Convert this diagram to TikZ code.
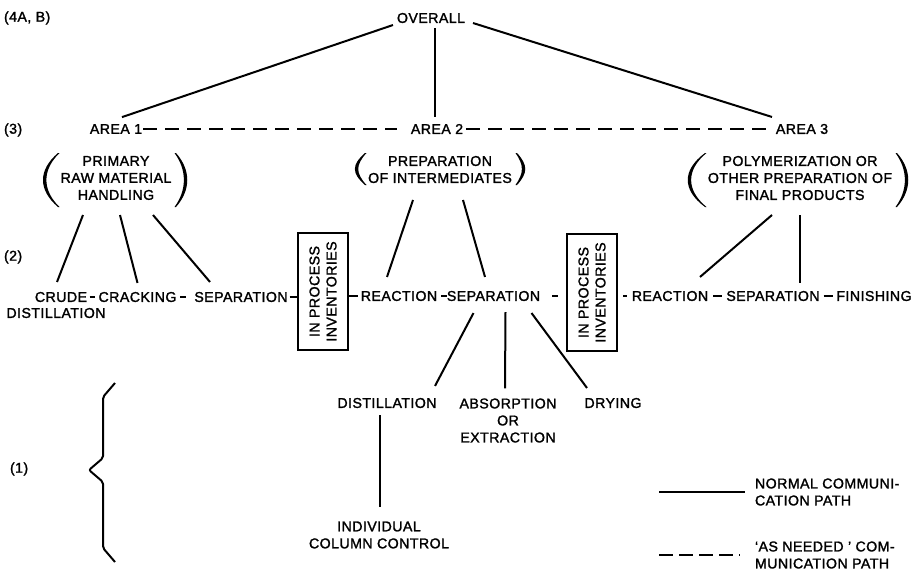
\documentclass[tikz,border=0pt]{standalone}
\usepackage{fontspec}
\setmainfont{Liberation Sans}[LetterSpace=3,FakeBold=1.6]
\usetikzlibrary{calc}

\begin{document}
\begin{tikzpicture}[x=1pt,y=-1pt,
  every node/.style={inner sep=0pt, outer sep=0pt, font=\fontsize{14.2}{17}\selectfont},
  lbl/.style={align=center},
  link/.style={line width=2pt},
  asneeded/.style={line width=2pt, dash pattern=on 14pt off 8pt},
  invbox/.style={draw, line width=2pt, rotate=90, minimum width=117pt,
                 minimum height=50pt, align=center},
  parenfill/.style={fill=black}]

\useasboundingbox (0,0) rectangle (919,578);

% level labels
\node[anchor=west] (l4) at (4,18)  {(4A, B)};
\node[anchor=west] (l3) at (4,130) {(3)};
\node[anchor=west] (l2) at (4,257) {(2)};
\node[anchor=west] (l1) at (10,469) {(1)};

% level 4 and 3
\node (overall) at (431,18) {OVERALL};
\node (area1) at (116,129) {AREA 1};
\node (area2) at (437,129) {AREA 2};
\node (area3) at (802,129) {AREA 3};

% area descriptions
\node[lbl] (g1) at (116,178)   {PRIMARY\\RAW MATERIAL\\HANDLING};
\node[lbl] (g2) at (440,169.5) {PREPARATION\\OF INTERMEDIATES};
\node[lbl] (g3) at (800,178)   {POLYMERIZATION OR\\OTHER PREPARATION OF\\FINAL PRODUCTS};

% parentheses round the descriptions
\fill[parenfill] (58,153) .. controls (38,170) and (38,190) .. (58,207)
  -- (59.5,207) .. controls (42,190) and (42,170) .. (59.5,153) -- cycle;
\fill[parenfill] (176,153) .. controls (191,170) and (191,190) .. (176,207)
  -- (174.5,207) .. controls (187,190) and (187,170) .. (174.5,153) -- cycle;
\fill[parenfill] (365,153) .. controls (351.5,165) and (351.5,173) .. (365,185)
  -- (366.5,185) .. controls (355.5,173) and (355.5,165) .. (366.5,153) -- cycle;
\fill[parenfill] (517,153) .. controls (528,165) and (528,173) .. (517,185)
  -- (515.5,185) .. controls (524,173) and (524,165) .. (515.5,153) -- cycle;
\fill[parenfill] (705,153) .. controls (682,170) and (682,190) .. (705,207)
  -- (706.5,207) .. controls (686,190) and (686,170) .. (706.5,153) -- cycle;
\fill[parenfill] (897,153) .. controls (912,170) and (912,190) .. (897,207)
  -- (895.5,207) .. controls (908,190) and (908,170) .. (895.5,153) -- cycle;

% level 2
\node (crude)  at (61,297) {CRUDE};
\node (crude2) at (56,313) {DISTILLATION};
\node (cracking) at (137.5,297) {CRACKING};
\node (sep1) at (241,297) {SEPARATION};
\node[invbox] (inv1) at (323,291.5) {IN PROCESS\\INVENTORIES};
\node (react1) at (399,296) {REACTION};
\node (sep2) at (493.5,296) {SEPARATION};
\node[invbox] (inv2) at (592,292.5) {IN PROCESS\\INVENTORIES};
\node (react2) at (670,296) {REACTION};
\node (sep3) at (773,296) {SEPARATION};
\node (finish) at (874,296) {FINISHING};

% level 1
\node (dist) at (387,403) {DISTILLATION};
\node[lbl] (absorb) at (508,420.5) {ABSORPTION\\OR\\EXTRACTION};
\node (drying) at (613,403) {DRYING};
\node[lbl] (indiv) at (379,535) {INDIVIDUAL\\COLUMN CONTROL};

% brace for level 1
\draw[line width=2pt, rounded corners=2pt] (115,383) -- (103,397) -- (103,458)
  -- (89,470) -- (103,482) -- (103,548) -- (115,562);

% overall to areas
\draw[link] ($(overall.south west)+(-4,2)$) -- ($(area1.north)+(6,-7)$);
\draw[link] ($(overall.south)+(4,5)$) -- ($(area2.north)+(-2,-7)$);
\draw[link] ($(overall.south east)+(8,0)$) -- ($(area3.north)+(-30,-7)$);

% as-needed links between areas
\draw[asneeded, shorten <=1pt, shorten >=14pt] (area1.east) -- (area2.west);
\draw[asneeded, shorten <=3pt, shorten >=10pt] (area2.east) -- (area3.west);

% descriptions to level 2
\draw[link] ($(g1.center)+(-33,37)$) -- ($(crude.north)+(-4,-10)$);
\draw[link] ($(g1.center)+(4,37)$) -- ($(cracking.north)+(0,-9)$);
\draw[link] ($(g1.center)+(37,37)$) -- ($(sep1.north)+(-31,-10)$);
\draw[link] ($(g2.center)+(-27,30.5)$) -- ($(react1.north)+(-12,-14)$);
\draw[link] ($(g2.center)+(23,30.5)$) -- ($(sep2.north)+(-8.5,-14)$);
\draw[link] ($(g3.center)+(-28,37)$) -- ($(react2.north)+(30,-14)$);
\draw[link] ($(g3.center)+(0,37)$) -- ($(sep3.north)+(27,-8)$);

% level 2 chain
\draw[link, shorten <=2.5pt, shorten >=3.5pt] (crude.east) -- (cracking.west);
\draw[link, shorten <=4pt, shorten >=8pt] (cracking.east) -- (sep1.west);
\draw[link, shorten <=2pt] (sep1.east) -- (sep1.east -| inv1.north);
\draw[link, shorten >=3pt] (inv1.south |- react1.west) -- (react1.west);
\draw[link, shorten <=4pt] (react1.east) -- (sep2.west);
\draw[link, shorten <=12pt, shorten >=9pt] (sep2.east) -- (sep2.east -| inv2.north);
\draw[link, shorten <=6pt, shorten >=5pt] (inv2.south |- react2.west) -- (react2.west);
\draw[link, shorten <=5pt, shorten >=4pt] (react2.east) -- (sep3.west);
\draw[link, shorten <=4pt, shorten >=3pt] (sep3.east) -- (finish.west);

% separation to level 1
\draw[link] ($(sep2.south)+(-20,12)$) -- ($(dist.north)+(48,-12)$);
\draw[link] ($(sep2.south)+(12,11)$) -- ($(absorb.north)+(-3,-10)$);
\draw[link] ($(sep2.south)+(38,12)$) -- ($(drying.north)+(-26,-10)$);
\draw[link] ($(dist.south)+(-7,7)$) -- ($(indiv.north)+(1,-15)$);

% legend
\node[anchor=west, align=left] (legA) at (755,492) {NORMAL COMMUNI-\\CATION PATH};
\node[anchor=west, align=left] (legB) at (755,555) {‘AS NEEDED ’ COM-\\MUNICATION PATH};
\coordinate (legAs) at (659,492);
\coordinate (legBs) at (659,555);
\draw[link, shorten >=10pt] (legAs) -- (legA.west);
\draw[asneeded, dash pattern=on 14pt off 6pt, shorten >=15pt] (legBs) -- (legB.west);

\end{tikzpicture}
\end{document}
